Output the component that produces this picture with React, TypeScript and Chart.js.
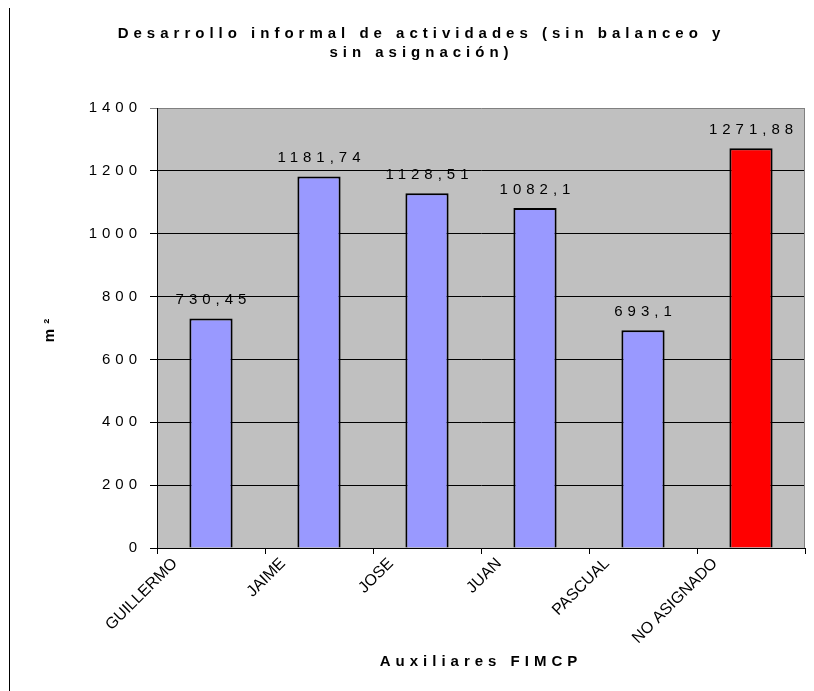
import React, { useEffect, useRef } from "react";
import { Chart, registerables } from "chart.js";

Chart.register(...registerables);

const categories = ["GUILLERMO", "JAIME", "JOSE", "JUAN", "PASCUAL", "NO ASIGNADO"];
const values = [730.45, 1181.74, 1128.51, 1082.1, 693.1, 1271.88];
const valueLabels = ["730,45", "1181,74", "1128,51", "1082,1", "693,1", "1271,88"];
const barColors = ["#9999FF", "#9999FF", "#9999FF", "#9999FF", "#9999FF", "#FF0000"];
const titleLines = ["Desarrollo informal de actividades (sin balanceo y", "sin asignación)"];
const yTitle = "m²";
const xTitle = "Auxiliares FIMCP";
const yMin = 0;
const yMax = 1400;
const yStep = 200;

const FONT = "'Liberation Sans', Arial, sans-serif";
const SPACING = "5px";

const spacingPlugin = {
  id: "spacing",
  beforeLayout(chart: any) {
    chart.ctx.letterSpacing = SPACING;
  },
  beforeDraw(chart: any) {
    chart.ctx.letterSpacing = SPACING;
  },
};

const bgPlugin = {
  id: "plotBg",
  beforeDraw(chart: any) {
    const { ctx, chartArea } = chart;
    ctx.save();
    ctx.fillStyle = "#C0C0C0";
    ctx.fillRect(chartArea.left, chartArea.top, chartArea.right - chartArea.left, chartArea.bottom - chartArea.top);
    ctx.restore();
  },
  afterDraw(chart: any) {
    const { ctx, chartArea } = chart;
    ctx.save();
    ctx.strokeStyle = "#808080";
    ctx.lineWidth = 1;
    ctx.beginPath();
    const r = Math.round(chartArea.right) - 0.5;
    ctx.moveTo(r, Math.round(chartArea.top));
    ctx.lineTo(r, Math.round(chartArea.bottom));
    ctx.stroke();
    ctx.restore();
  },
};

const labelPlugin = {
  id: "labels",
  afterDatasetsDraw(chart: any) {
    const { ctx, chartArea } = chart;
    const meta = chart.getDatasetMeta(0);
    const xScale = chart.scales.x;
    ctx.save();
    // value labels
    ctx.letterSpacing = "5px";
    ctx.font = `15px ${FONT}`;
    ctx.fillStyle = "#000";
    ctx.textAlign = "center";
    ctx.textBaseline = "middle";
    meta.data.forEach((bar: any, i: number) => {
      ctx.fillText(valueLabels[i], bar.x + 2.5, bar.y - 18.5);
    });
    // category labels (rotated)
    ctx.letterSpacing = "0px";
    ctx.font = `16px ${FONT}`;
    ctx.textAlign = "right";
    ctx.textBaseline = "middle";
    categories.forEach((c, i) => {
      const cx = xScale.getPixelForValue(i);
      ctx.save();
      ctx.translate(cx - 36, chartArea.bottom + 13);
      ctx.rotate(-Math.PI / 4);
      ctx.fillText(c, 0, 0);
      ctx.restore();
    });
    ctx.restore();
  },
};

export default function App() {
  const ref = useRef<HTMLCanvasElement | null>(null);
  useEffect(() => {
    if (!ref.current) return;
    Chart.defaults.font.family = FONT;
    Chart.defaults.color = "#000";
    const chart = new Chart(ref.current, {
      type: "bar",
      data: {
        labels: categories,
        datasets: [
          {
            data: values,
            backgroundColor: barColors,
            borderColor: "#000",
            borderWidth: 2,
            categoryPercentage: 0.4,
            barPercentage: 1,
          },
        ],
      },
      options: {
        responsive: false,
        animation: false,
        layout: { padding: { left: 28, right: 2, top: 0, bottom: 0 } },
        plugins: {
          legend: { display: false },
          tooltip: { enabled: false },
          title: {
            display: true,
            text: titleLines,
            color: "#000",
            font: { size: 15, weight: "bold", family: FONT, lineHeight: 1.27 },
            padding: { top: 18.5, bottom: 45.4 },
          },
        },
        scales: {
          x: {
            type: "category",
            offset: true,
            grid: {
              display: true,
              drawOnChartArea: false,
              drawTicks: true,
              tickLength: 6,
              color: "#000",
              offset: true,
            },
            border: { display: true, color: "#000", width: 1 },
            ticks: { display: false },
            title: {
              display: true,
              text: xTitle,
              color: "#000",
              font: { size: 15, weight: "bold", family: FONT },
              padding: { top: 0, bottom: 19 },
            },
            afterFit(scale: any) {
              scale.height = 142;
            },
          },
          y: {
            min: yMin,
            max: yMax,
            grid: {
              color: (ctx: any) => (ctx.tick && ctx.tick.value === yMax ? "#808080" : "#000"),
              lineWidth: 1,
              tickLength: 7,
              drawTicks: true,
            },
            border: { display: true, color: "#000", width: 1 },
            ticks: {
              stepSize: yStep,
              color: "#000",
              padding: 8,
              font: { size: 15, family: FONT },
              callback: (v: any) => String(v),
            },
            title: {
              display: true,
              text: yTitle,
              color: "#000",
              font: { size: 15, weight: "bold", family: FONT },
              padding: { top: 3, bottom: 0 },
            },
            afterFit(scale: any) {
              scale.width = 119;
            },
          },
        },
      },
      plugins: [spacingPlugin, bgPlugin, labelPlugin],
    });
    return () => chart.destroy();
  }, []);
  return (
    <div
      style={{
        width: 797,
        height: 685,
        border: "1px solid #000",
        marginLeft: 1,
        marginTop: -3,
        background: "#fff",
      }}
    >
      <canvas ref={ref} width={797} height={684} style={{ display: "block" }} />
    </div>
  );
}
